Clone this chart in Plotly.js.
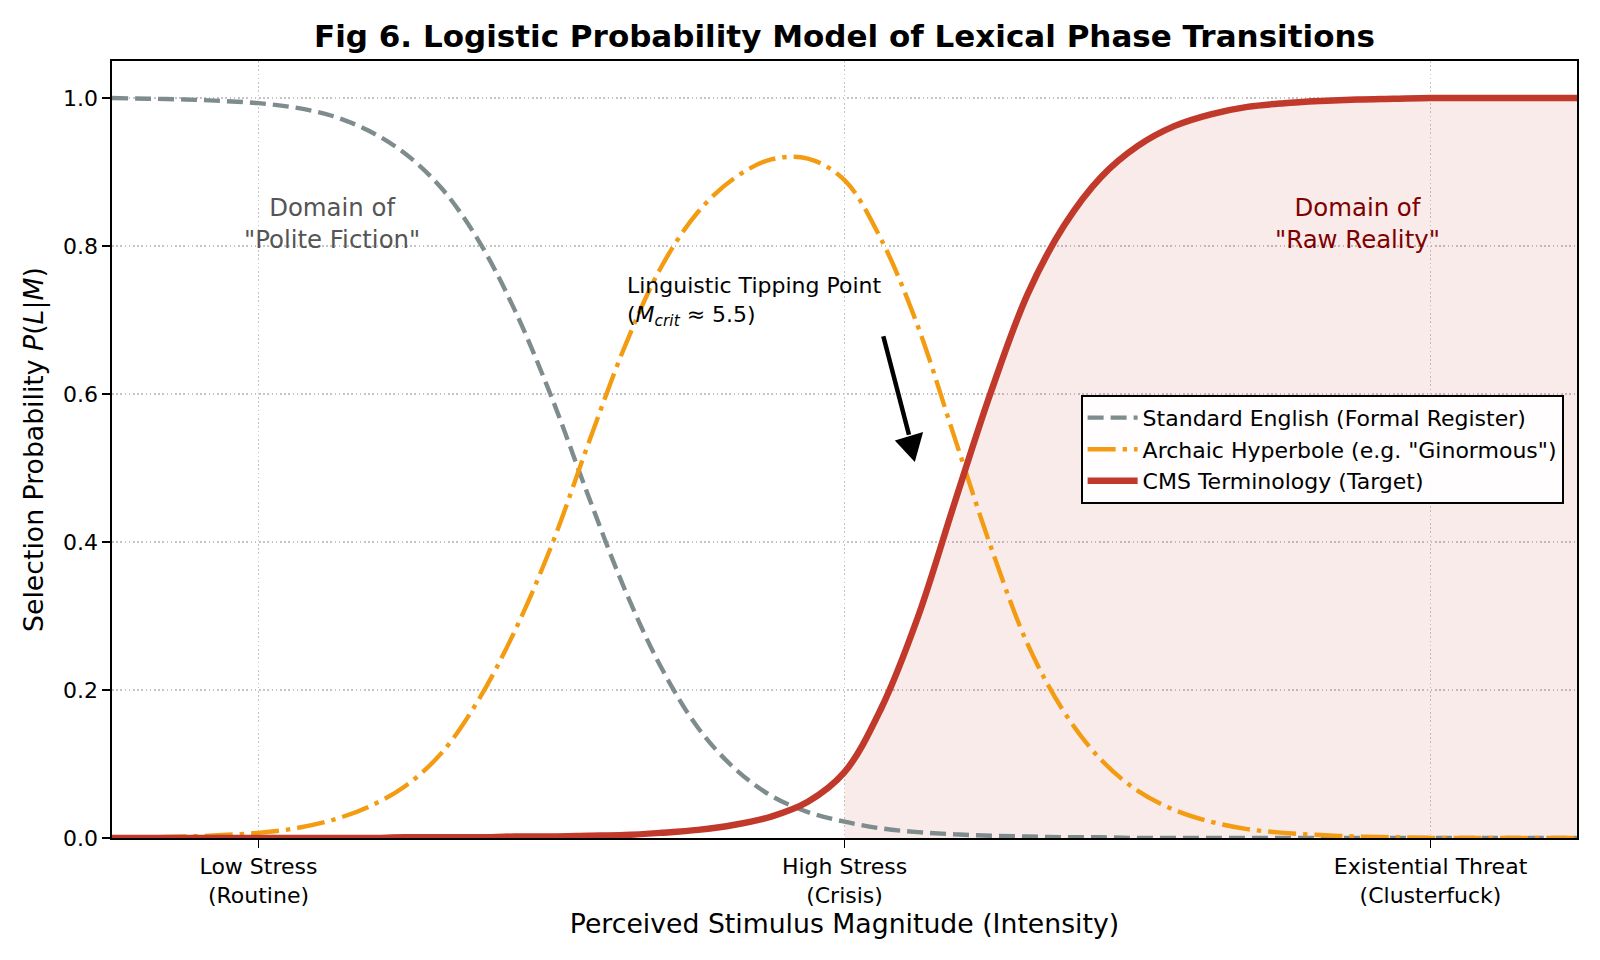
<!DOCTYPE html>
<html>
<head>
<meta charset="utf-8">
<script src="https://cdn.plot.ly/plotly-3.0.1.min.js"></script>
<style>
  html, body { margin: 0; padding: 0; background: #fff; }
  #chart { width: 1600px; height: 960px; }
</style>
</head>
<body>
<div id="chart"></div>
<script>
// Stimulus magnitude samples, every 0.25
var magnitude = [0, 0.25, 0.5, 0.75, 1, 1.25, 1.5, 1.75, 2, 2.25, 2.5, 2.75, 3, 3.25, 3.5, 3.75,
    4, 4.25, 4.5, 4.75, 5, 5.25, 5.5, 5.75, 6, 6.25, 6.5, 6.75, 7, 7.25, 7.5, 7.75,
    8, 8.25, 8.5, 8.75, 9, 9.25, 9.5, 9.75, 10];

var standardEnglish = [1.000, 0.999, 0.998, 0.996, 0.993, 0.987, 0.976, 0.956, 0.925, 0.878, 0.808, 0.713,
    0.596, 0.463, 0.336, 0.230, 0.149, 0.094, 0.057, 0.035, 0.022, 0.013, 0.008, 0.005,
    0.003, 0.002, 0.001, 0.001, 0, 0, 0, 0, 0, 0, 0, 0, 0, 0, 0, 0, 0];

var archaicHyperbole = [0.000, 0.001, 0.002, 0.004, 0.007, 0.013, 0.024, 0.042, 0.070, 0.115, 0.186, 0.280,
    0.395, 0.532, 0.664, 0.772, 0.846, 0.892, 0.917, 0.918, 0.889, 0.809, 0.692, 0.542,
    0.393, 0.262, 0.170, 0.106, 0.064, 0.038, 0.022, 0.012, 0.007, 0.004, 0.002, 0.001,
    0, 0, 0, 0, 0];

var cmsTerminology = [0, 0, 0, 0, 0, 0, 0, 0, 0.001, 0.001, 0.001, 0.002,
    0.002, 0.003, 0.004, 0.007, 0.011, 0.018, 0.029, 0.049, 0.089, 0.175, 0.298, 0.452,
    0.603, 0.735, 0.828, 0.893, 0.935, 0.962, 0.978, 0.988, 0.993, 0.996, 0.998, 0.999,
    1, 1, 1, 1, 1];

var tickPositions = [1, 5, 9];
var tickLabels = ['Low Stress<br>(Routine)', 'High Stress<br>(Crisis)', 'Existential Threat<br>(Clusterfuck)'];
var yTicks = [0, 0.2, 0.4, 0.6, 0.8, 1.0];
var shadeFrom = 5;

var font = 'DejaVu Sans, Verdana, sans-serif';

// shaded "raw reality" region under the target curve
var shadeX = [], shadeY = [];
for (var i = 0; i < magnitude.length; i++) {
    if (magnitude[i] >= shadeFrom) {
        shadeX.push(magnitude[i]);
        shadeY.push(cmsTerminology[i]);
    }
}

var data = [
    { x: shadeX, y: shadeY, type: 'scatter', mode: 'lines',
      line: {width: 0, shape: 'spline'}, fill: 'tozeroy',
      fillcolor: 'rgba(192,57,43,0.1)', showlegend: false, hoverinfo: 'skip' },
    { x: magnitude, y: standardEnglish, type: 'scatter', mode: 'lines',
      name: 'Standard English (Formal Register)',
      line: {color: '#7f8c8d', width: 4.4, dash: '16px,7px', shape: 'spline'} },
    { x: magnitude, y: archaicHyperbole, type: 'scatter', mode: 'lines',
      name: 'Archaic Hyperbole (e.g. "Ginormous")',
      line: {color: '#f39c12', width: 4.4, dash: '28px,7px,4.4px,7px', shape: 'spline'} },
    { x: magnitude, y: cmsTerminology, type: 'scatter', mode: 'lines',
      name: 'CMS Terminology (Target)',
      line: {color: '#c0392b', width: 6.5, shape: 'spline'} }
];

var axisCommon = {
    showline: true, linecolor: '#000', linewidth: 1.8, mirror: true,
    ticks: 'outside', ticklen: 7.8, tickwidth: 1.8, tickcolor: '#000',
    showgrid: true, gridcolor: '#c4c4c4', gridwidth: 1.3, griddash: '1.6px,2.6px',
    zeroline: false, tickfont: {family: font, size: 22, color: '#000'}
};

var layout = {
    width: 1600, height: 960,
    margin: {l: 112, r: 23, t: 61, b: 122},
    paper_bgcolor: '#fff', plot_bgcolor: '#fff',
    font: {family: font, color: '#000'},
    title: {text: '<b>Fig 6. Logistic Probability Model of Lexical Phase Transitions</b>',
            font: {family: font, size: 31, color: '#000'},
            x: 0.5, xref: 'paper', xanchor: 'center', y: 0.962, yanchor: 'middle'},
    xaxis: Object.assign({}, axisCommon, {
        range: [0, 10], tickmode: 'array', tickvals: tickPositions, ticktext: tickLabels,
        title: {text: 'Perceived Stimulus Magnitude (Intensity)',
                font: {family: font, size: 26.7, color: '#000'}, standoff: 5}
    }),
    yaxis: Object.assign({}, axisCommon, {
        range: [0, 1.05], tickmode: 'array', tickvals: yTicks,
        ticktext: yTicks.map(function (v) { return v.toFixed(1); }),
        title: {text: 'Selection Probability <i>P</i>(<i>L</i>|<i>M</i>)',
                font: {family: font, size: 26.7, color: '#000'}, standoff: 12}
    }),
    legend: {
        x: 0.991, xanchor: 'right', y: 0.5, yanchor: 'middle', itemwidth: 50,
        bgcolor: 'rgba(255,255,255,0.9)', bordercolor: '#000', borderwidth: 1.8,
        font: {family: font, size: 22, color: '#000'}
    },
    annotations: [
        { x: 1.5, y: 0.83, xref: 'x', yref: 'y', showarrow: false,
          text: 'Domain of<br>"Polite Fiction"', font: {family: font, size: 24.4, color: '#555555'} },
        { x: 8.5, y: 0.83, xref: 'x', yref: 'y', showarrow: false,
          text: 'Domain of<br>"Raw Reality"', font: {family: font, size: 24.4, color: '#800000'} },
        { x: 3.5, y: 0.725, xref: 'x', yref: 'y', showarrow: false, xanchor: 'left', align: 'left',
          text: 'Linguistic Tipping Point<br>(<i>M<sub>crit</sub></i> ≈ 5.5)',
          font: {family: font, size: 22, color: '#000'} }
    ],
    shapes: [
        // arrow shaft
        { type: 'line', xref: 'x', yref: 'y', x0: 5.265, y0: 0.678, x1: 5.44, y1: 0.545,
          line: {color: '#000', width: 4.5} },
        // arrow head, drawn in pixels around its tip
        { type: 'path', xref: 'x', yref: 'y', xsizemode: 'pixel', ysizemode: 'pixel',
          xanchor: 5.48, yanchor: 0.508, path: 'M0,0 L-20,21.7 L8.3,30 Z',
          fillcolor: '#000', line: {width: 0} }
    ]
};

Plotly.newPlot('chart', data, layout, {displayModeBar: false, staticPlot: true});
</script>
</body>
</html>
